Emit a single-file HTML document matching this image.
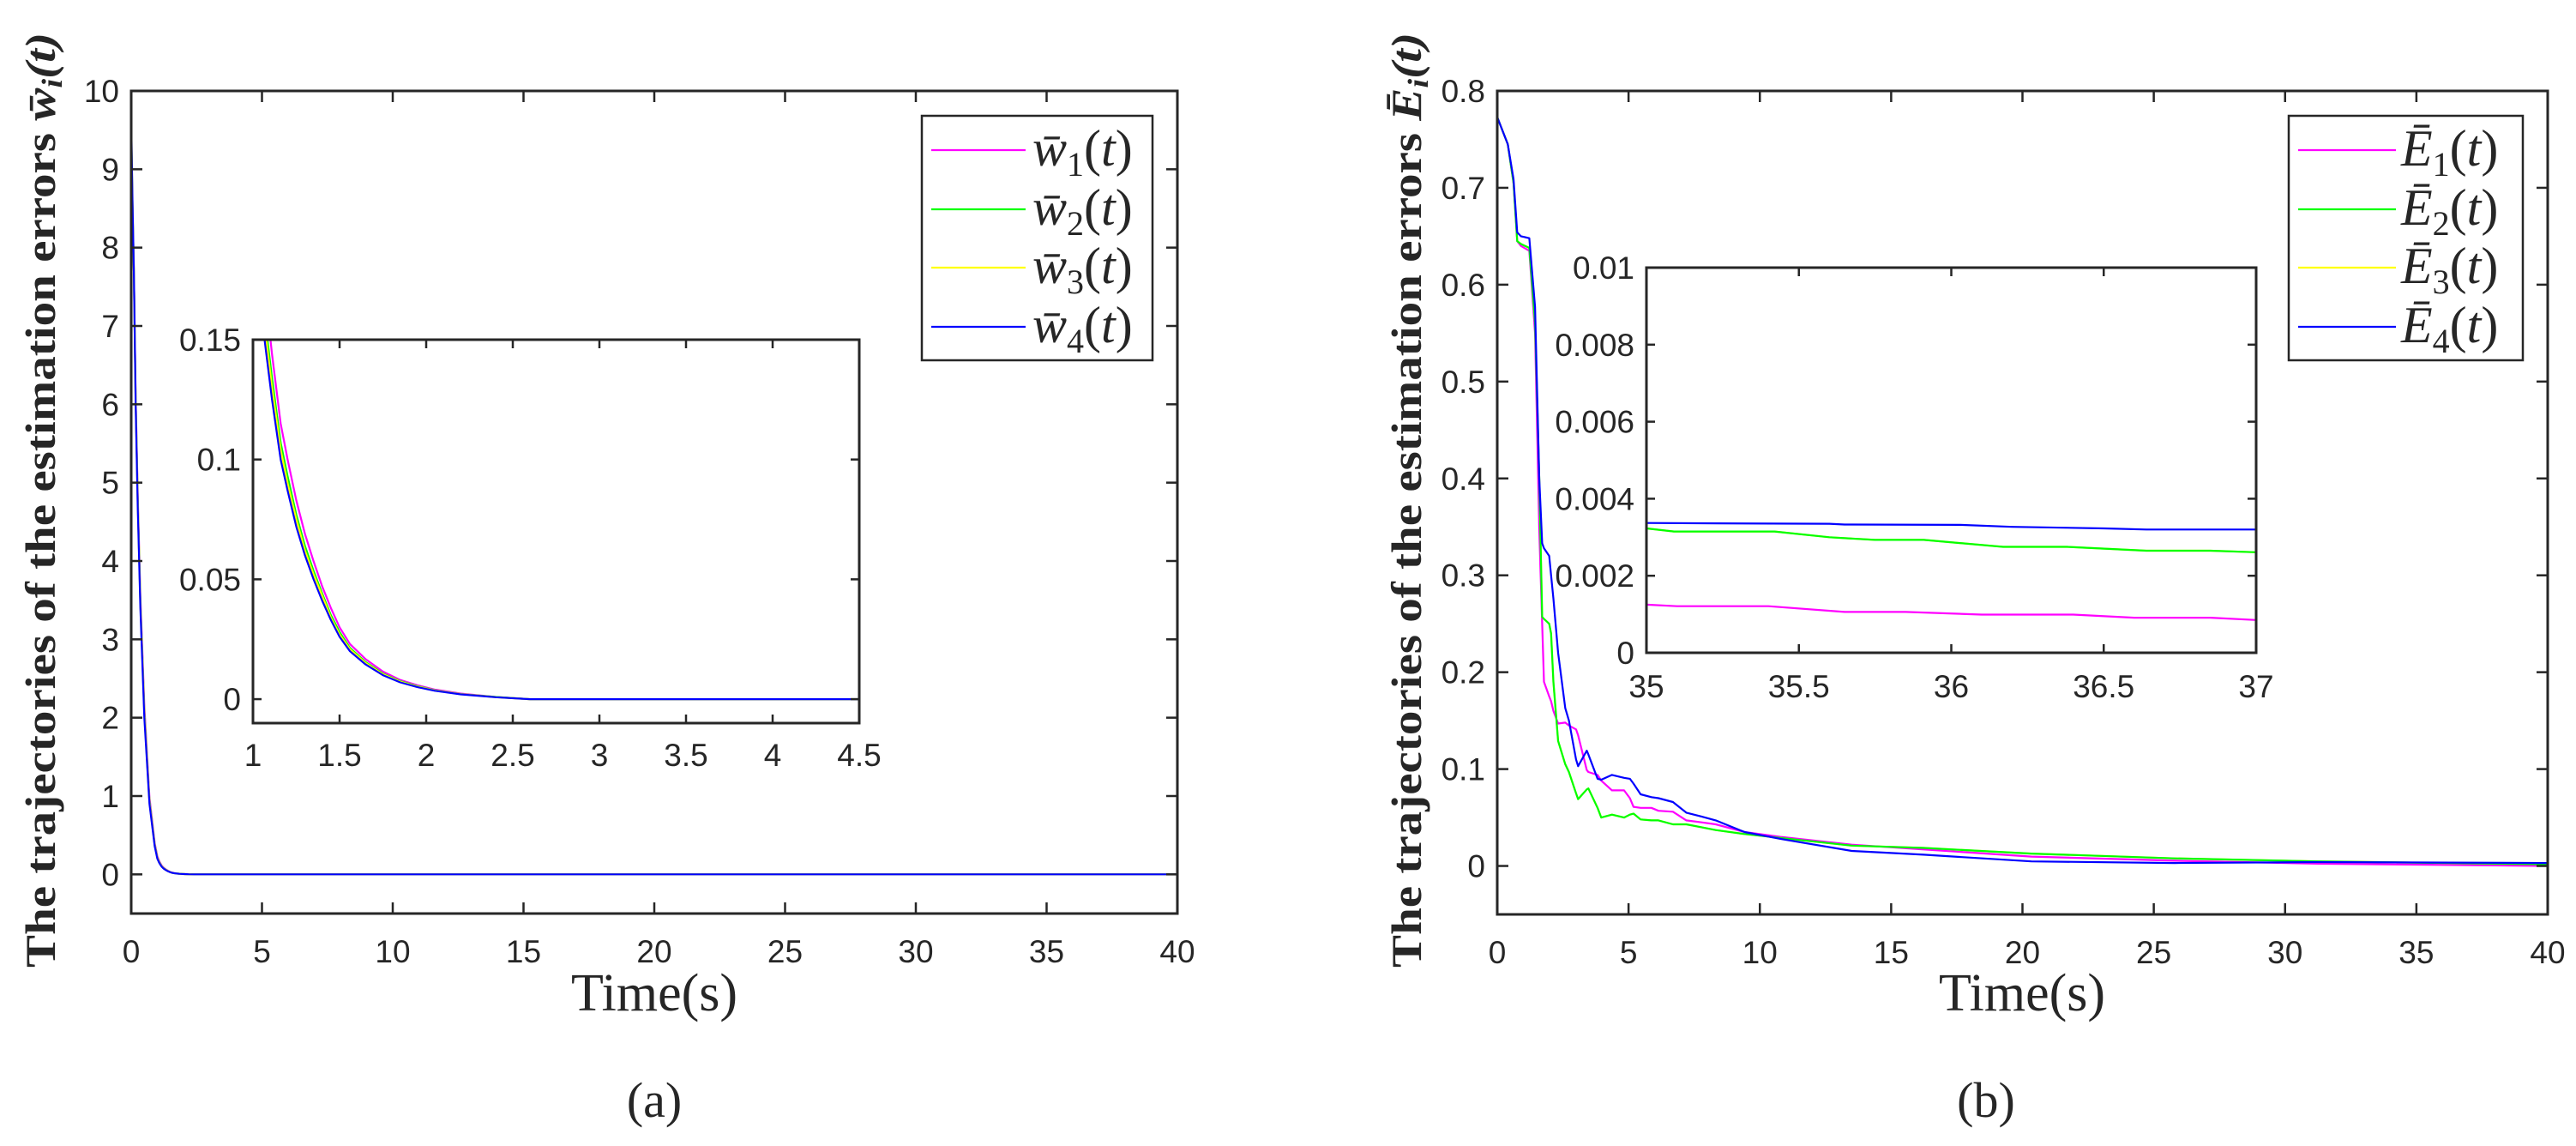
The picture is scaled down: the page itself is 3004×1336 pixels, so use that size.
<!DOCTYPE html>
<html><head><meta charset="utf-8"><style>
html,body{margin:0;padding:0;background:#fff;}
svg{display:block;}
text{fill:#262626;}
.tick{font-family:"Liberation Sans",sans-serif;font-size:37px;}
.ser{font-family:"Liberation Serif",serif;}
</style></head><body>
<svg id="fig" width="3004" height="1336" viewBox="0 0 3004 1336" xmlns="http://www.w3.org/2000/svg">
<rect width="3004" height="1336" fill="#fff"/>
</svg>
<script>
// ---- data: panel (a) ----
const wTime=[0,0.05,0.1,0.17,0.25,0.35,0.5,0.7,0.9,1.0,1.067,1.11,1.16,1.2,1.25,1.3,1.35,1.4,1.45,1.5,1.56,1.65,1.75,1.85,1.95,2.05,2.2,2.4,2.6,40];
const w1=[9.4,8.5,7.7,6.1,4.85,3.55,2.15,0.98,0.40,0.23,0.173,0.144,0.115,0.1,0.083,0.069,0.0575,0.047,0.038,0.03,0.023,0.0167,0.0115,0.008,0.0058,0.004,0.0023,0.0009,0,0];
const w2=[9.5,8.55,7.7,6.05,4.78,3.48,2.08,0.94,0.38,0.214,0.16,0.134,0.107,0.093,0.077,0.064,0.0535,0.044,0.035,0.028,0.0214,0.0155,0.0107,0.0075,0.0054,0.0037,0.0021,0.0009,0,0];
const w3=[9.55,8.57,7.7,6.03,4.75,3.45,2.05,0.92,0.37,0.208,0.156,0.13,0.104,0.09,0.075,0.062,0.052,0.043,0.034,0.027,0.0208,0.0151,0.0104,0.0073,0.0052,0.0036,0.0021,0.0008,0,0];
const w4=[9.65,8.6,7.7,6.0,4.7,3.4,2.0,0.9,0.36,0.2,0.15,0.125,0.1,0.087,0.072,0.06,0.05,0.041,0.033,0.026,0.02,0.0145,0.01,0.007,0.005,0.0035,0.002,0.0008,0,0];
const aXTicks=[0,5,10,15,20,25,30,35,40];
const aYTicks=[0,1,2,3,4,5,6,7,8,9,10];
const aInXTicks=[1,1.5,2,2.5,3,3.5,4,4.5];
const aInYTicks=[0,0.05,0.1,0.15];
const aInYLabels=["0","0.05","0.1","0.15"];
// ---- data: panel (b) ----
const eTime=[0,0.4,0.62,0.76,0.9,1.22,1.44,1.6,1.71,1.78,1.98,2.05,2.14,2.32,2.59,2.73,3.0,3.08,3.41,3.47,3.82,3.96,4.37,4.83,5.05,5.19,5.46,5.87,6.14,6.69,7.2,7.78,8.32,9.42,10.78,13.5,16.24,20.34,25.8,31.26,40];
const e1=[0.773,0.745,0.705,0.645,0.64,0.635,0.55,0.348,0.25,0.19,0.175,0.17,0.16,0.147,0.148,0.145,0.141,0.135,0.099,0.097,0.094,0.088,0.078,0.078,0.07,0.061,0.060,0.060,0.057,0.056,0.047,0.045,0.043,0.035,0.030,0.022,0.017,0.0097,0.0054,0.0023,0];
const e2=[0.773,0.745,0.705,0.645,0.642,0.638,0.56,0.40,0.257,0.255,0.25,0.24,0.19,0.129,0.105,0.097,0.075,0.069,0.079,0.08,0.06,0.05,0.053,0.05,0.053,0.054,0.048,0.047,0.047,0.043,0.043,0.04,0.037,0.033,0.029,0.021,0.0186,0.0128,0.0078,0.0047,0.0016];
const e3=[0.773,0.745,0.705,0.645,0.642,0.638,0.56,0.40,0.257,0.255,0.25,0.24,0.19,0.129,0.105,0.097,0.075,0.069,0.079,0.08,0.06,0.05,0.053,0.05,0.053,0.054,0.048,0.047,0.047,0.043,0.043,0.04,0.037,0.033,0.029,0.021,0.0186,0.0128,0.0078,0.0047,0.0016];
const e4=[0.773,0.745,0.709,0.654,0.65,0.648,0.577,0.40,0.333,0.328,0.32,0.30,0.276,0.22,0.163,0.15,0.11,0.103,0.119,0.115,0.09,0.089,0.094,0.091,0.09,0.085,0.074,0.071,0.070,0.066,0.055,0.051,0.047,0.035,0.028,0.0155,0.0116,0.0047,0.003,0.004,0.003];
const e1InT=[35,35.1,35.4,35.65,35.85,36.1,36.4,36.6,36.85,37];
const e1In=[0.00125,0.00121,0.00121,0.00106,0.00106,0.00099,0.00099,0.00091,0.00091,0.00085];
const e2InT=[35,35.09,35.42,35.6,35.75,35.91,36.17,36.38,36.64,36.85,37];
const e2In=[0.00323,0.00315,0.00315,0.00300,0.00293,0.00293,0.00275,0.00275,0.00265,0.00265,0.00261];
const e4InT=[35,35.23,35.6,35.65,36.03,36.2,36.5,36.64,37];
const e4In=[0.00337,0.00336,0.00335,0.00333,0.00332,0.00327,0.00323,0.00320,0.00320];
const bXTicks=[0,5,10,15,20,25,30,35,40];
const bYTicks=[0,0.1,0.2,0.3,0.4,0.5,0.6,0.7,0.8];
const bInXTicks=[35,35.5,36,36.5,37];
const bInYTicks=[0,0.002,0.004,0.006,0.008,0.01];
const bInYLabels=["0","0.002","0.004","0.006","0.008","0.01"];

const NS="http://www.w3.org/2000/svg";
const svg=document.getElementById('fig');
function mk(tag,attrs,parent){const e=document.createElementNS(NS,tag);for(const k in attrs)e.setAttribute(k,attrs[k]);(parent||svg).appendChild(e);return e;}
function scale(d0,d1,p0,p1){return v=>p0+(v-d0)/(d1-d0)*(p1-p0);}
let clipN=0;
function axes(cfg){
  const g=mk('g',{});
  
  
  const sx=scale(cfg.xd[0],cfg.xd[1],cfg.x0,cfg.x1), sy=scale(cfg.yd[0],cfg.yd[1],cfg.y1,cfg.y0);
  mk('rect',{x:cfg.x0,y:cfg.y0,width:cfg.x1-cfg.x0,height:cfg.y1-cfg.y0,fill:'#fff'},g);
  const id='clip'+(clipN++);
  const cp=mk('clipPath',{id:id},g);mk('rect',{x:cfg.x0,y:cfg.y0,width:cfg.x1-cfg.x0,height:cfg.y1-cfg.y0},cp);
  const lines=mk('g',{'clip-path':'url(#'+id+')'},g);
  cfg.series.forEach(s=>{
    const pts=s.t.map((t,i)=>sx(t).toFixed(1)+','+sy(s.v[i]).toFixed(1)).join(' ');
    const pl=mk('polyline',{points:pts,fill:'none',stroke:s.c,'stroke-width':cfg.lw||2.2,'stroke-linejoin':'round'},lines);
    
    
  });
  const tl=cfg.tl||13;
  cfg.xt.forEach((v,i)=>{
    const x=sx(v);
    mk('line',{x1:x,x2:x,y1:cfg.y1,y2:cfg.y1-tl,stroke:'#262626','stroke-width':2.5},g);
    mk('line',{x1:x,x2:x,y1:cfg.y0,y2:cfg.y0+tl,stroke:'#262626','stroke-width':2.5},g);
    const t=mk('text',{x:x,y:cfg.y1+cfg.xlOff,'text-anchor':'middle',class:'tick'},g);
    t.textContent=cfg.xl?cfg.xl[i]:String(v);
    
    
  });
  cfg.yt.forEach((v,i)=>{
    const y=sy(v);
    mk('line',{x1:cfg.x0,x2:cfg.x0+tl,y1:y,y2:y,stroke:'#262626','stroke-width':2.5},g);
    mk('line',{x1:cfg.x1,x2:cfg.x1-tl,y1:y,y2:y,stroke:'#262626','stroke-width':2.5},g);
    const t=mk('text',{x:cfg.x0-14,y:y+13,'text-anchor':'end',class:'tick'},g);
    t.textContent=cfg.yl?cfg.yl[i]:String(v);
    
    
  });
  mk('rect',{x:cfg.x0,y:cfg.y0,width:cfg.x1-cfg.x0,height:cfg.y1-cfg.y0,fill:'none',stroke:'#262626','stroke-width':3},g);
  return g;
}
const C1='#ff00ff',C2='#00ff00',C3='#ffff00',C4='#0000ff';
axes({name:'panel-a-axes',x0:153,x1:1373,y0:106,y1:1065,xd:[0,40],yd:[-0.5,10],xt:aXTicks,yt:aYTicks,xlOff:57,
  series:[{name:'w1-line',t:wTime,v:w1,c:C1},{name:'w2-line',t:wTime,v:w2,c:C2},{name:'w3-line',t:wTime,v:w3,c:C3},{name:'w4-line',t:wTime,v:w4,c:C4}]});
axes({name:'panel-a-inset',x0:295,x1:1002,y0:396,y1:843,xd:[1,4.5],yd:[-0.01,0.15],xt:aInXTicks,yt:aInYTicks,yl:aInYLabels,xlOff:50,tl:10,
  series:[{name:'w1-inset-line',t:wTime,v:w1,c:C1},{name:'w2-inset-line',t:wTime,v:w2,c:C2},{name:'w3-inset-line',t:wTime,v:w3,c:C3},{name:'w4-inset-line',t:wTime,v:w4,c:C4}]});
axes({name:'panel-b-axes',x0:1746,x1:2971,y0:106,y1:1066,xd:[0,40],yd:[-0.05,0.8],xt:bXTicks,yt:bYTicks,xlOff:57,
  series:[{name:'e3-line',t:eTime,v:e3,c:C3},{name:'e1-line',t:eTime,v:e1,c:C1},{name:'e2-line',t:eTime,v:e2,c:C2},{name:'e4-line',t:eTime,v:e4,c:C4}]});
axes({name:'panel-b-inset',x0:1920,x1:2631,y0:312,y1:761,xd:[35,37],yd:[0,0.01],xt:bInXTicks,yt:bInYTicks,yl:bInYLabels,xlOff:52,tl:10,
  series:[{name:'e1-inset-line',t:e1InT,v:e1In,c:C1},{name:'e3-inset-line',t:e2InT,v:e2In,c:C3},{name:'e2-inset-line',t:e2InT,v:e2In,c:C2},{name:'e4-inset-line',t:e4InT,v:e4In,c:C4}]});

function legend(name,x0,x1,y0,y1,lx0,lx1,tx,sym,yl){
  const g=mk('g',{});
  
  
  mk('rect',{x:x0,y:y0,width:x1-x0,height:y1-y0,fill:'#fff',stroke:'#262626','stroke-width':2.5},g);
  const cols=[C1,C2,C3,C4];
  for(let i=0;i<4;i++){
    const y=yl[i];
    mk('line',{x1:lx0,x2:lx1,y1:y,y2:y,stroke:cols[i],'stroke-width':2.2},g);
    const t=mk('text',{x:tx,y:y+18,class:'ser','font-size':60},g);
    t.innerHTML='<tspan font-style="italic">'+sym+'</tspan><tspan font-size="40" dy="12">'+(i+1)+'</tspan><tspan dy="-12">(</tspan><tspan font-style="italic">t</tspan>)';
    
    
  }
}
legend('legend-a',1075,1344,135,420,1086,1196,1204,'w\u0304',[175,244,312,381]);
legend('legend-b',2669,2942,135,420,2680,2794,2800,'E\u0304',[175,244,312,381]);

function label(name,txt,x,y,size,attrs){
  const t=mk('text',Object.assign({x:x,y:y,'text-anchor':'middle',class:'ser','font-size':size},attrs||{}));
  t.innerHTML=txt;
  
  
  return t;
}
label('x-axis-title-a','Time(s)',763,1178,62);
label('x-axis-title-b','Time(s)',2358,1178,62);
label('caption-a','(a)',763,1302,58);
label('caption-b','(b)',2316,1302,58);
label('y-axis-title-a','The trajectories of the estimation errors <tspan font-style="italic">w\u0304<tspan font-size="34" dy="8">i</tspan><tspan dy="-8">(t)</tspan></tspan>',0,0,50,
  {transform:'translate(64,583) rotate(-90)',textLength:1090,lengthAdjust:'spacingAndGlyphs','font-weight':'bold'});
label('y-axis-title-b','The trajectories of the estimation errors <tspan font-style="italic">E\u0304<tspan font-size="34" dy="8">i</tspan><tspan dy="-8">(t)</tspan></tspan>',0,0,50,
  {transform:'translate(1657,583) rotate(-90)',textLength:1090,lengthAdjust:'spacingAndGlyphs','font-weight':'bold'});
</script>
</body></html>
